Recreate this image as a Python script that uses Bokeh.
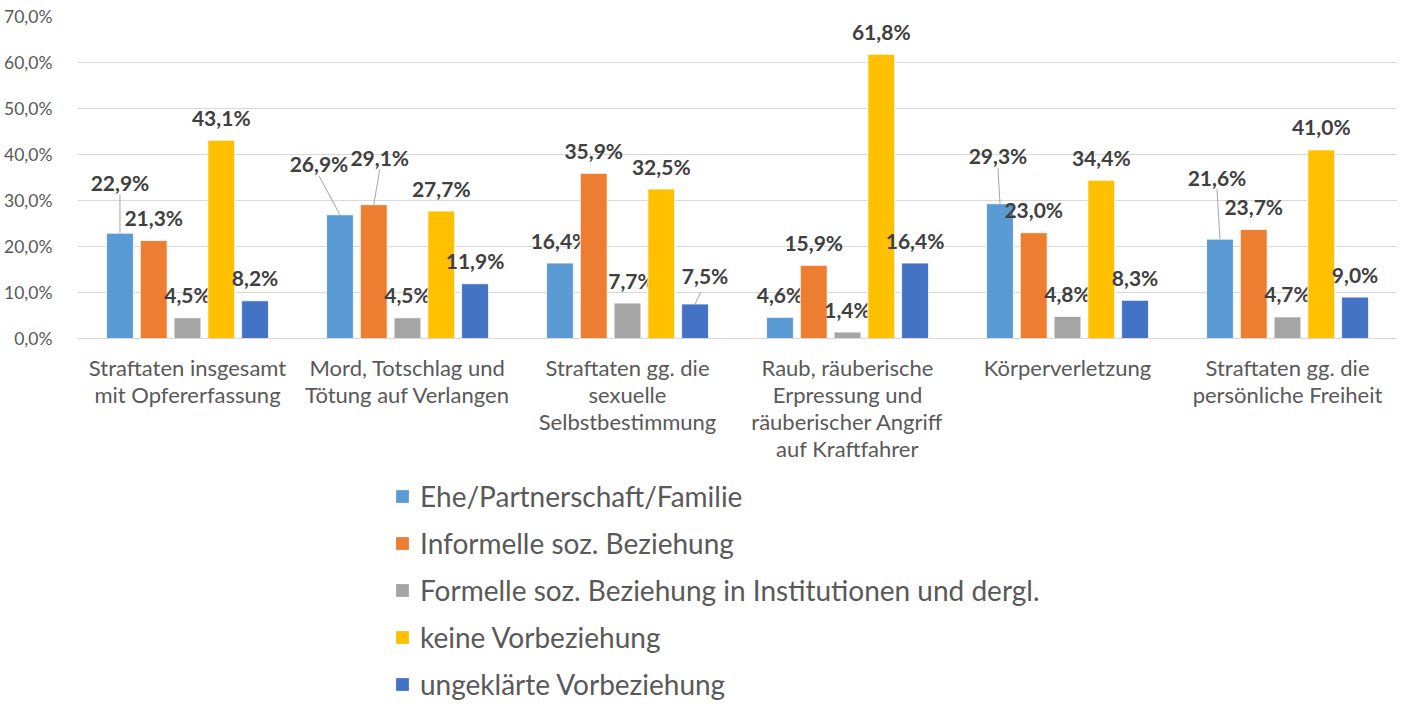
from bokeh.plotting import figure
from bokeh.layouts import column
from bokeh.models import (ColumnDataSource, FactorRange, Range1d, FixedTicker,
                          Legend, LegendItem)
from bokeh.transform import dodge
from bokeh.core.properties import value
from bokeh.embed import file_html
from bokeh.resources import INLINE

# ---------------- data ----------------
categories = [
    "Straftaten insgesamt\nmit Opfererfassung",
    "Mord, Totschlag und\nTötung auf Verlangen",
    "Straftaten gg. die\nsexuelle\nSelbstbestimmung",
    "Raub, räuberische\nErpressung und\nräuberischer Angriff\nauf Kraftfahrer",
    "Körperverletzung",
    "Straftaten gg. die\npersönliche Freiheit",
]
series_names = [
    "Ehe/Partnerschaft/Familie",
    "Informelle soz. Beziehung",
    "Formelle soz. Beziehung in Institutionen und dergl.",
    "keine Vorbeziehung",
    "ungeklärte Vorbeziehung",
]
ehe = [22.9, 26.9, 16.4, 4.6, 29.3, 21.6]
informell = [21.3, 29.1, 35.9, 15.9, 23.0, 23.7]
formell = [4.5, 4.5, 7.7, 1.4, 4.8, 4.7]
keine = [43.1, 27.7, 32.5, 61.8, 34.4, 41.0]
ungeklaert = [8.2, 11.9, 7.5, 16.4, 8.3, 9.0]
y_ticks = [0, 10, 20, 30, 40, 50, 60, 70]
y_tick_labels = ["0,0%", "10,0%", "20,0%", "30,0%", "40,0%", "50,0%", "60,0%", "70,0%"]

# ---------------- styles ----------------
colors = ["#5B9BD5", "#ED7D31", "#A5A5A5", "#FFC000", "#4472C4"]
offsets = [-0.307, -0.1535, 0.0, 0.1535, 0.307]
bar_w = 0.122
# manual label displacement (pixels): dx, extra upward dy
label_dx = [[0, -21, 0, 0, -2, -3],
            [0, 6, 0, 0, 0, 0],
            [0, 0, 4, 0, 0, 0],
            [0, 0, 0, 0, 0, 0],
            [0, 0, 10, 0, 0, 0]]
label_dy = [[28, 28, 0, 0, 25, 39],
            [0, 24, 0, 0, 0, 0],
            [0, 0, 0, 0, 0, 0],
            [0, 0, 0, 0, 0, 0],
            [0, 0, 6, 0, 0, 0]]
BASE_UP = 23

W = 1397
H1, H2 = 478, 227
LEFT, TOP = 77, 16
FRAME_BOTTOM = 338
frame_w = W - LEFT
frame_h = FRAME_BOTTOM - TOP
px_per_x = frame_w / len(categories)
px_per_y = frame_h / 70.0

FONT = "Lato"
TXT = "#595959"

p = figure(x_range=FactorRange(*categories, range_padding=0),
           y_range=Range1d(0, 70),
           width=W, height=H1, output_backend="svg", toolbar_location=None,
           min_border_left=LEFT, min_border_right=0, min_border_top=TOP,
           min_border_bottom=H1 - FRAME_BOTTOM)
p.outline_line_color = None
p.background_fill_color = "white"
p.border_fill_color = "white"

centers = {c: k + 0.5 for k, c in enumerate(categories)}
all_series = [ehe, informell, formell, keine, ungeklaert]
for i, vals in enumerate(all_series):
    src = ColumnDataSource(dict(
        cat=categories,
        val=vals,
        lab=[f"{v:.1f}".replace(".", ",") + "%" for v in vals],
        dx=label_dx[i],
        dy=[-(BASE_UP + d) for d in label_dy[i]],
    ))
    p.vbar(x=dodge("cat", offsets[i], range=p.x_range), top="val", width=bar_w,
           source=src, fill_color=colors[i], line_color="white", line_width=0.8)
    # leader lines for displaced labels
    x0, y0, x1, y1 = [], [], [], []
    for j, v in enumerate(vals):
        dyj = label_dy[i][j]
        if dyj <= 0:
            continue
        cx = centers[categories[j]] + offsets[i]
        x0.append(cx)
        y0.append(v)
        if dyj > 10:
            x1.append(cx + label_dx[i][j] / px_per_x)
            y1.append(v + (BASE_UP + dyj - 12) / px_per_y)
        else:
            x1.append(cx + (label_dx[i][j] - 4) / px_per_x)
            y1.append(v + (BASE_UP + dyj - 17) / px_per_y)
    if x0:
        p.segment(x0=x0, y0=y0, x1=x1, y1=y1, line_color="#A6A6A6", line_width=1)
    p.text(x=dodge("cat", offsets[i], range=p.x_range), y="val", text="lab",
           x_offset="dx", y_offset="dy", source=src,
           text_font=value(FONT), text_font_style="bold", text_font_size="21px",
           text_color="#404040", text_align="center", text_baseline="middle")

# axes
p.yaxis.ticker = FixedTicker(ticks=y_ticks)
p.yaxis.major_label_overrides = {t: l for t, l in zip(y_ticks, y_tick_labels)}
p.yaxis.axis_line_color = None
p.yaxis.major_tick_line_color = None
p.yaxis.minor_tick_line_color = None
p.yaxis.major_label_standoff = 19
p.yaxis.major_label_text_font = FONT
p.yaxis.major_label_text_font_size = "17.5px"
p.yaxis.major_label_text_color = TXT

p.xaxis.axis_line_color = "#D9D9D9"
p.xaxis.major_tick_line_color = None
p.xaxis.minor_tick_line_color = None
p.xaxis.major_label_standoff = 9
p.xaxis.major_label_text_font = FONT
p.xaxis.major_label_text_font_size = "22px"
p.xaxis.major_label_text_color = TXT
p.xaxis.major_label_text_line_height = 1.0

p.xgrid.grid_line_color = None
p.ygrid.grid_line_color = "#D9D9D9"
p.ygrid.grid_line_width = 1

# ---------------- legend panel ----------------
pl = figure(width=W, height=H2, output_backend="svg", toolbar_location=None,
            x_range=Range1d(0, 1), y_range=Range1d(1000, 1001),
            x_axis_type=None, y_axis_type=None,
            min_border=0, min_border_left=0, min_border_right=0,
            min_border_top=0, min_border_bottom=0)
pl.grid.visible = False
pl.outline_line_color = None
pl.background_fill_color = "white"
pl.border_fill_color = "white"
legend_items = []
for i, name in enumerate(series_names):
    # same series drawn into a range that keeps them out of view: only the swatch shows
    r = pl.vbar(x=list(range(len(categories))), top=all_series[i], width=0.1,
                fill_color=colors[i], line_color=None)
    legend_items.append(LegendItem(label=name, renderers=[r]))
legend = Legend(items=legend_items, location=(317, 4), orientation="vertical",
                label_text_font=FONT, label_text_font_size="28px",
                label_text_color=TXT, glyph_width=16, glyph_height=16,
                label_standoff=10, spacing=13, label_height=34, padding=0,
                margin=0, border_line_color=None, background_fill_alpha=0)
pl.add_layout(legend, "center")

layout = column(p, pl, spacing=0)
open("out.html", "w").write(file_html(layout, INLINE))
